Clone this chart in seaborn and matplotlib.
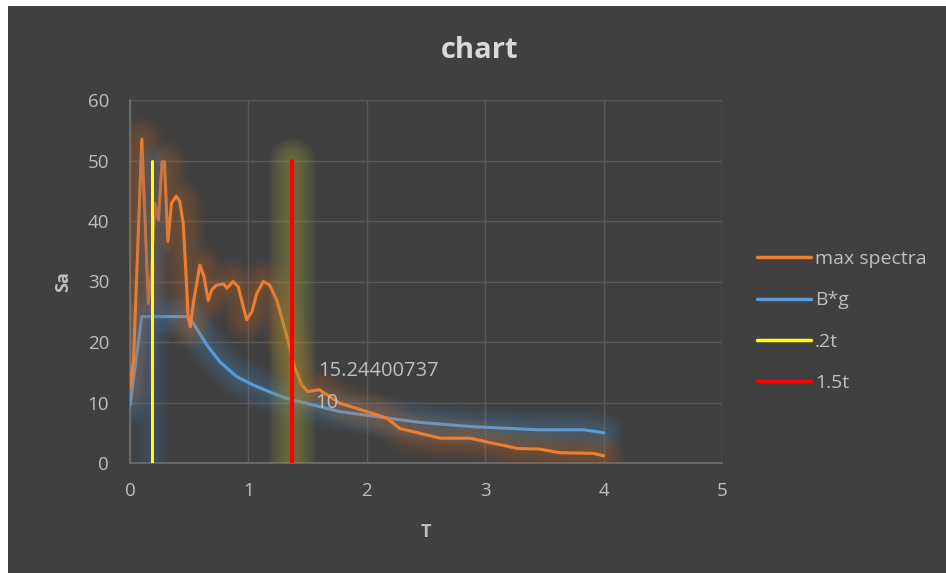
import numpy as np
import pandas as pd
import matplotlib.pyplot as plt
import matplotlib.patheffects as pe
import seaborn as sns

# max spectra
t_max = [0.0, 0.03, 0.1, 0.155, 0.18, 0.21, 0.24, 0.27, 0.29, 0.32, 0.35, 0.39, 0.42,
         0.45, 0.48, 0.49, 0.51, 0.535, 0.59, 0.625, 0.66, 0.69, 0.73, 0.79, 0.82,
         0.87, 0.915, 0.957, 0.985, 1.03, 1.07, 1.126, 1.18, 1.24, 1.295, 1.34,
         1.366, 1.39, 1.45, 1.5, 1.6, 1.77, 2.05, 2.17, 2.28, 2.45, 2.62, 2.87,
         3.01, 3.18, 3.27, 3.46, 3.63, 3.91, 4.0]
sa_max = [12.5, 17.0, 53.5, 26.4, 31.0, 42.9, 40.2, 49.8, 49.8, 36.6, 42.9, 44.1, 43.2,
          39.6, 28.6, 24.2, 22.5, 26.4, 32.7, 30.8, 26.9, 28.6, 29.4, 29.6, 28.9,
          30.0, 29.1, 25.8, 23.7, 25.0, 28.0, 30.0, 29.4, 26.9, 23.1, 19.8,
          17.6, 15.9, 12.9, 11.8, 12.1, 9.9, 8.2, 7.4, 5.7, 4.9, 4.1, 4.1,
          3.5, 2.8, 2.4, 2.3, 1.7, 1.6, 1.2]

# B*g design spectrum
t_bg = [0.0, 0.1, 0.5, 0.56, 0.66, 0.76, 0.9, 1.04, 1.21, 1.32, 1.38, 1.77, 2.11,
        2.45, 2.9, 3.43, 3.83, 4.0]
sa_bg = [9.6, 24.2, 24.2, 22.3, 19.2, 16.7, 14.3, 12.9, 11.5, 10.7, 10.4, 8.5, 7.6,
         6.7, 6.0, 5.5, 5.5, 5.0]

# vertical markers
t_02 = [0.182, 0.182]
sa_02 = [0, 50]
t_15 = [1.365, 1.365]
sa_15 = [0, 50]

# data labels
lbl_t = [1.59, 1.565]
lbl_sa = [15.244, 10.0]
lbl_txt = ["15.24400737", "10"]

bg = "#404040"
txt = "#BFBFBF"
sns.set_style("dark")
plt.rcParams['font.family'] = ['Open Sans', 'DejaVu Sans']

fig = plt.figure(figsize=(9.46, 5.73), dpi=100, facecolor="white")
fig.patches.append(plt.Rectangle((8 / 946, 0), 1, 1 - 6 / 573, transform=fig.transFigure,
                                 facecolor=bg, edgecolor="none", zorder=-10))
ax = fig.add_axes([130 / 946, 1 - 463 / 573, 592 / 946, 363 / 573])
ax.set_facecolor(bg)


def glow(color, wmax, alpha, n=12):
    # soft halo: many translucent strokes, widest first
    return [pe.Stroke(linewidth=w, foreground=color, alpha=alpha)
            for w in np.linspace(wmax, 4, n)] + [pe.Normal()]


max_df = pd.DataFrame({"T": t_max, "Sa": sa_max})
bg_df = pd.DataFrame({"T": t_bg, "Sa": sa_bg})

sns.lineplot(data=max_df, x="T", y="Sa", ax=ax, color="#ED7D31", lw=2.2,
             estimator=None, sort=False, label="max spectra", zorder=4,
             path_effects=glow("#ED7D31", 32, 0.028))
sns.lineplot(data=bg_df, x="T", y="Sa", ax=ax, color="#5B9BD5", lw=2.2,
             estimator=None, sort=False, label="B*g", zorder=3,
             path_effects=glow("#5B9BD5", 30, 0.032))
sns.lineplot(x=t_02, y=sa_02, ax=ax, color="#FFFF00", lw=2.2, estimator=None,
             sort=False, label=".2t", zorder=5,
             path_effects=glow("#4A6FA0", 26, 0.035))
sns.lineplot(x=t_15, y=sa_15, ax=ax, color="#FF0000", lw=3, estimator=None,
             sort=False, label="1.5t", zorder=5,
             path_effects=glow("#A0A040", 34, 0.055))

for x, y, s in zip(lbl_t, lbl_sa, lbl_txt):
    ax.text(x, y, s, color=txt, fontsize=14.5, va="center", ha="left", zorder=6)

ax.set_xlim(0, 5)
ax.set_ylim(0, 60)
ax.set_xticks(range(0, 6))
ax.set_yticks(range(0, 61, 10))
ax.grid(True, color="#5A5A5A", lw=1)
ax.set_axisbelow(True)
for s in ["top", "right"]:
    ax.spines[s].set_visible(False)
for s in ["left", "bottom"]:
    ax.spines[s].set_color("#707070")
    ax.spines[s].set_linewidth(1.2)
ax.tick_params(colors=txt, labelsize=13.5, length=0)
ax.tick_params(axis="y", pad=15)
ax.tick_params(axis="x", pad=14)
ax.set_xlabel("T", color=txt, fontsize=13, fontweight="bold", labelpad=16)
ax.set_ylabel("Sa", color=txt, fontsize=13, fontweight="bold", labelpad=11)
fig.text(480 / 946, 1 - 50 / 573, "chart", color="#D9D9D9", fontsize=21,
         fontweight="bold", ha="center", va="center")

leg = fig.legend(loc="upper left", bbox_to_anchor=(757 / 946, 1 - 250 / 573),
                 frameon=False, fontsize=14, labelcolor=txt, labelspacing=1.2,
                 handlelength=2.78, handletextpad=0.2, borderpad=0, borderaxespad=0)
ax.get_legend().remove()
for h in leg.legend_handles:
    h.set_path_effects([])
    h.set_linewidth(2.5)

fig.savefig("out.png", dpi=100, facecolor=fig.get_facecolor())
